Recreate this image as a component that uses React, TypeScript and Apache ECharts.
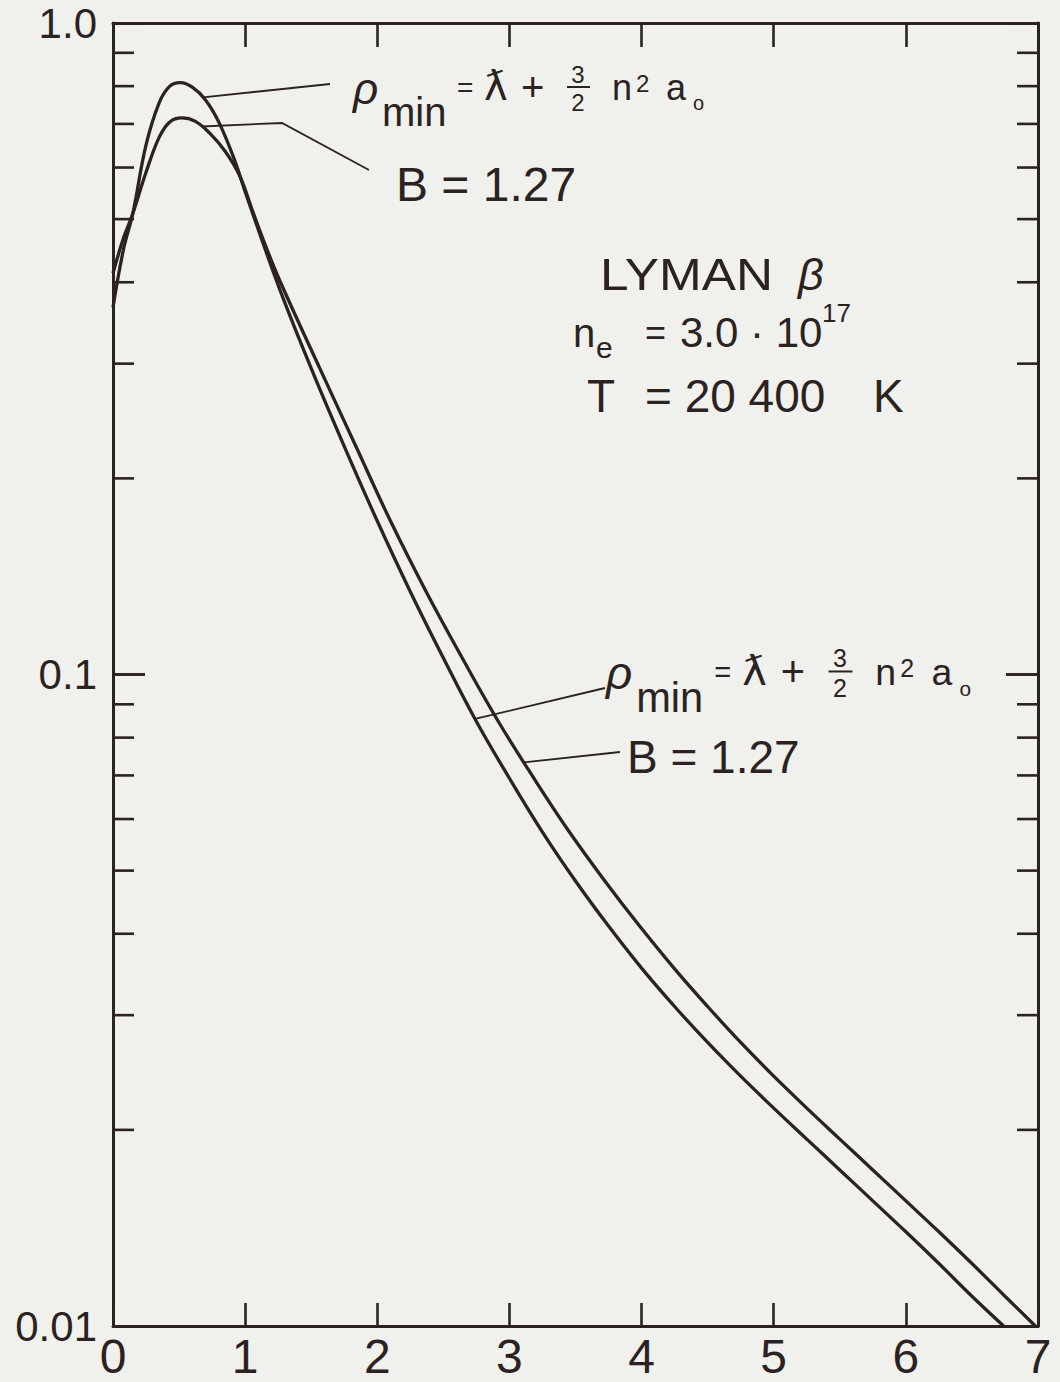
import React, { useEffect, useRef } from 'react';
import * as echarts from 'echarts';

const INK = '#2b2222';
const BG = '#f0f0ec';
const FONT = '"Liberation Sans", Arial, sans-serif';
const DJV = '"DejaVu Sans", sans-serif';

// Curve 1: rho_min = lambda-bar + 3/2 n^2 a0
const xRho: number[] = [0, 0.08, 0.15, 0.25, 0.35, 0.43, 0.51, 0.6, 0.7, 0.8, 0.92, 1.0, 1.25, 1.5, 1.75, 2.0, 2.25, 2.5, 2.75, 3.0, 3.25, 3.5, 3.75, 4.0, 4.25, 4.5, 4.75, 5.0, 5.25, 5.5, 5.75, 6.0, 6.25, 6.5, 6.74];
const yRho: number[] = [0.366, 0.45, 0.51, 0.65, 0.755, 0.8, 0.81, 0.797, 0.762, 0.705, 0.616, 0.551, 0.396, 0.295, 0.224, 0.172, 0.134, 0.106, 0.0847, 0.0693, 0.0573, 0.0482, 0.0411, 0.03543, 0.03093, 0.02724, 0.02418, 0.0216, 0.01936, 0.01736, 0.01556, 0.01395, 0.01247, 0.01111, 0.01];

// Curve 2: B = 1.27
const xB: number[] = [0, 0.08, 0.15, 0.25, 0.35, 0.43, 0.52, 0.62, 0.73, 0.85, 0.96, 1.06, 1.16, 1.27, 1.565, 1.838, 2.1, 2.37, 2.643, 2.916, 3.185, 3.454, 3.722, 3.985, 4.245, 4.5, 4.75, 5.0, 5.25, 5.5, 5.75, 6.0, 6.25, 6.5, 6.75, 6.98];
const yB: number[] = [0.413, 0.468, 0.51, 0.59, 0.668, 0.705, 0.715, 0.707, 0.678, 0.635, 0.582, 0.512, 0.452, 0.399, 0.295, 0.224, 0.172, 0.134, 0.106, 0.0847, 0.0693, 0.0573, 0.0482, 0.0411, 0.03543, 0.03093, 0.02724, 0.02418, 0.0216, 0.01936, 0.01736, 0.01556, 0.01395, 0.01247, 0.01111, 0.01];

const yMinorTicks: number[] = [0.02, 0.03, 0.04, 0.05, 0.06, 0.07, 0.08, 0.09, 0.2, 0.3, 0.4, 0.5, 0.6, 0.7, 0.8, 0.9];
const yMajorTicks: number[] = [0.1];
const yTickLabels: string[] = ['0.01', '0.1', '1.0'];

function interpLog(xs: number[], ys: number[], t: number): number {
  for (let i = 0; i < xs.length - 1; i++) {
    if (t >= xs[i] && t <= xs[i + 1]) {
      const f = (t - xs[i]) / (xs[i + 1] - xs[i]);
      return Math.pow(10, Math.log10(ys[i]) * (1 - f) + Math.log10(ys[i + 1]) * f);
    }
  }
  return ys[ys.length - 1];
}

type Piece = { dx: number; base: number; text: string; fs: number; family?: string; italic?: boolean; center?: boolean };

const rhoPieces: Piece[] = [
  { dx: 0, base: 4, text: 'ρ', fs: 44, italic: true },
  { dx: 29, base: 26, text: 'min', fs: 40 },
  { dx: 104, base: -3, text: '=', fs: 28 },
  { dx: 131, base: 0, text: 'ƛ', fs: 40, family: DJV },
  { dx: 168, base: 1, text: '+', fs: 40 },
  { dx: 225, base: -17.6, text: '3', fs: 24, center: true },
  { dx: 225, base: 11.3, text: '2', fs: 24, center: true },
  { dx: 259, base: 0, text: 'n', fs: 36 },
  { dx: 283, base: -7.7, text: '2', fs: 24 },
  { dx: 313, base: 0, text: 'a', fs: 36 },
  { dx: 340, base: 10, text: 'o', fs: 20 },
];

function txt(x: number, yBase: number, text: string, fs: number, opts: { family?: string; italic?: boolean; center?: boolean; sx?: number } = {}) {
  return {
    type: 'text',
    x,
    y: yBase - 0.3465 * fs,
    scaleX: opts.sx || 1,
    silent: true,
    style: {
      text,
      fontSize: fs,
      fontFamily: opts.family || FONT,
      fontStyle: opts.italic ? 'italic' : 'normal',
      fill: INK,
      textAlign: opts.center ? 'center' : 'left',
      textVerticalAlign: 'middle',
    },
  };
}

function rhoLabel(x0: number, yb: number, s: number) {
  const els: any[] = rhoPieces.map((p) =>
    txt(x0 + p.dx * s, yb + p.base * s, p.text, p.fs * s, { family: p.family, italic: p.italic, center: p.center })
  );
  els.push({
    type: 'line',
    silent: true,
    shape: { x1: x0 + 214 * s, y1: yb - 13 * s, x2: x0 + 237 * s, y2: yb - 13 * s },
    style: { stroke: INK, lineWidth: 2 },
  });
  return els;
}

function tickSeries(vals: number[], len: number) {
  return {
    type: 'custom',
    silent: true,
    coordinateSystem: 'cartesian2d',
    xAxisIndex: 0,
    yAxisIndex: 0,
    z: 5,
    data: vals.map((v) => [0, v]),
    encode: { x: 0, y: 1 },
    renderItem: (_params: any, api: any) => {
      const v = api.value(1);
      const l = api.coord([0, v]);
      const r = api.coord([7, v]);
      const st = { stroke: INK, lineWidth: 2.6 };
      return {
        type: 'group',
        children: [
          { type: 'line', shape: { x1: l[0], y1: l[1], x2: l[0] + len, y2: l[1] }, style: st },
          { type: 'line', shape: { x1: r[0] - len, y1: r[1], x2: r[0], y2: r[1] }, style: st },
        ],
      };
    },
  };
}

function fmtY(v: number): string {
  const e = Math.round(Math.log10(v));
  if (e >= 0) return yTickLabels[2];
  if (e === -1) return yTickLabels[1];
  return yTickLabels[0];
}

export default function App() {
  const ref = useRef<HTMLDivElement>(null);
  useEffect(() => {
    document.body.style.margin = '0';
    const chart = echarts.init(ref.current!, null, { renderer: 'svg' });
    const axisLine = { show: true, onZero: false, lineStyle: { color: INK, width: 3 } };
    const tickStyle = { color: INK, width: 2.6 };
    const option: any = {
      animation: false,
      backgroundColor: BG,
      grid: { left: 113, right: 22, top: 23, bottom: 56, containLabel: false },
      xAxis: [
        {
          type: 'value', min: 0, max: 7, interval: 1, position: 'bottom',
          axisLine, axisTick: { show: true, inside: true, length: 23, lineStyle: tickStyle },
          axisLabel: { show: true, color: INK, fontSize: 48, fontFamily: FONT, margin: 6 },
          splitLine: { show: false },
        },
        {
          type: 'value', min: 0, max: 7, interval: 1, position: 'top',
          axisLine, axisTick: { show: true, inside: true, length: 24, lineStyle: tickStyle },
          axisLabel: { show: false }, splitLine: { show: false },
        },
      ],
      yAxis: [
        {
          type: 'log', logBase: 10, min: 0.01, max: 1, position: 'left',
          axisLine, axisTick: { show: true, inside: true, length: 32, lineStyle: tickStyle },
          axisLabel: { show: true, color: INK, fontSize: 42, fontFamily: FONT, margin: 16, formatter: fmtY },
          splitLine: { show: false }, minorTick: { show: false },
        },
        {
          type: 'log', logBase: 10, min: 0.01, max: 1, position: 'right',
          axisLine, axisTick: { show: true, inside: true, length: 32, lineStyle: tickStyle },
          axisLabel: { show: false }, splitLine: { show: false },
        },
      ],
      series: [
        tickSeries(yMinorTicks, 21),
        tickSeries(yMajorTicks, 32),
        {
          type: 'line', name: 'rho_min', xAxisIndex: 0, yAxisIndex: 0, silent: true,
          data: xRho.map((x, i) => [x, yRho[i]]),
          showSymbol: false, smooth: 0.4,
          lineStyle: { color: INK, width: 3.3 }, z: 3,
        },
        {
          type: 'line', name: 'B = 1.27', xAxisIndex: 0, yAxisIndex: 0, silent: true,
          data: xB.map((x, i) => [x, yB[i]]),
          showSymbol: false, smooth: 0.4,
          lineStyle: { color: INK, width: 3.3 }, z: 3,
        },
      ],
    };
    chart.setOption(option);

    const px = (t: number, v: number) => chart.convertToPixel({ gridIndex: 0 }, [t, v]) as number[];
    const pA1 = px(0.68, interpLog(xRho, yRho, 0.68));
    const pB1 = px(0.67, interpLog(xB, yB, 0.67));
    const pA2 = px(2.74, interpLog(xRho, yRho, 2.74));
    const pB2 = px(3.11, interpLog(xB, yB, 3.11));
    const lead = { stroke: INK, lineWidth: 1.8, fill: 'none' };

    const graphic: any[] = [
      { type: 'polyline', silent: true, shape: { points: [pA1, [330, 84]] }, style: lead },
      { type: 'polyline', silent: true, shape: { points: [pB1, [282, 123], [369, 170]] }, style: lead },
      { type: 'polyline', silent: true, shape: { points: [pA2, [605, 688]] }, style: lead },
      { type: 'polyline', silent: true, shape: { points: [pB2, [620, 752]] }, style: lead },
      ...rhoLabel(353, 100, 1),
      ...rhoLabel(606, 685, 1.04),
      txt(396, 201, 'B = 1.27', 48),
      txt(627, 773, 'B = 1.27', 46),
      txt(600, 290, 'LYMAN', 45, { sx: 1.14 }),
      txt(798, 290, 'β', 45, { italic: true }),
      txt(573, 347, 'n', 40),
      txt(596, 358, 'e', 30),
      txt(645, 345, '=', 36),
      txt(680, 347, '3.0 · 10', 42),
      txt(822, 322, '17', 26),
      txt(587, 412, 'T', 46),
      txt(645, 412, '= 20 400', 46),
      txt(873, 412, 'K', 46),
    ];
    chart.setOption({ graphic });
    return () => chart.dispose();
  }, []);
  return (
    <div
      ref={ref}
      style={{ position: 'absolute', left: 0, top: 0, width: 1060, height: 1382, background: BG }}
    />
  );
}
